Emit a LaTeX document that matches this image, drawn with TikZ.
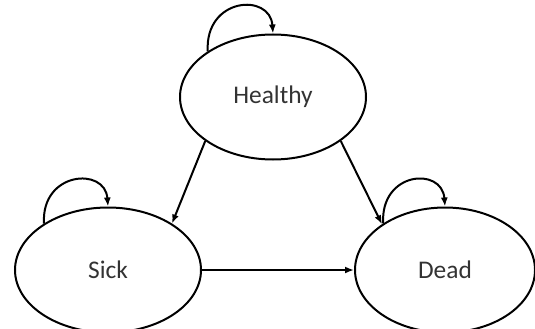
\documentclass[tikz,border=0pt]{standalone}
\usepackage{fontspec}
\setmainfont{Carlito}
\usepackage{tikz}
\usetikzlibrary{shapes.geometric}
\usetikzlibrary{arrows.meta}

\begin{document}
\begin{tikzpicture}[x=1bp,y=1bp,
	state/.style={ellipse,draw,line width=2bp,minimum width=186bp,minimum height=125bp,inner sep=0pt,text=black!80,font=\fontsize{25.5}{30}\selectfont},
	trans/.style={-{Latex[length=9bp,width=7bp]},line width=2bp}]
	\useasboundingbox (0,0) rectangle (535,328);
	\node[state] (healthy) at (273,231) {Healthy};
	\node[state] (sick) at (108,58) {Sick};
	\node[state,minimum width=180bp] (dead) at (445,58) {Dead};
	\draw[trans] (healthy.213) -- (sick.36);
	\draw[trans] (healthy.327) -- (dead.144);
	\draw[trans] (sick.east) -- (dead.west);
	\draw[trans] (healthy.145) .. controls +(-3,54) and +(-3,41) .. (healthy.90);
	\draw[trans] (sick.144) .. controls +(-3,52) and +(-3,40) .. (sick.90);
	\draw[trans] (dead.143) .. controls +(-3,52) and +(-3,40) .. (dead.90);
\end{tikzpicture}
\end{document}
